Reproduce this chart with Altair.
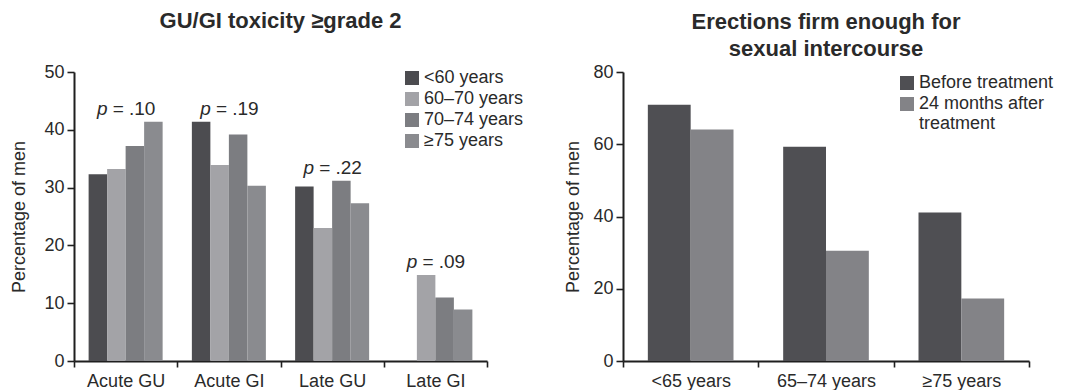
import altair as alt
import pandas as pd

FONT = "Liberation Sans"
TEXT = "#2a2a2a"
LINE = "#1f1f1f"

# ---- Left panel data: GU/GI toxicity >= grade 2 ----
tox_categories = ["Acute GU", "Acute GI", "Late GU", "Late GI"]
tox_groups = ["<60 years", "60–70 years", "70–74 years", "≥75 years"]
tox_lt60 = [32.3, 41.4, 30.2, None]
tox_60_70 = [33.2, 33.9, 23.0, 14.9]
tox_70_74 = [37.2, 39.2, 31.2, 11.0]
tox_ge75 = [41.4, 30.3, 27.3, 8.9]
tox_pvalues = ["= .10", "= .19", "= .22", "= .09"]
tox_colors = ["#4c4c50", "#a3a3a7", "#7c7d81", "#8a8b8f"]

# ---- Right panel data: erections firm enough ----
ed_categories = ["<65 years", "65–74 years", "≥75 years"]
ed_groups = ["Before treatment", "24 months after treatment"]
ed_before = [70.9, 59.3, 41.1]
ed_after = [64.1, 30.5, 17.3]
ed_colors = ["#4f4f53", "#838387"]

tox_series = [tox_lt60, tox_60_70, tox_70_74, tox_ge75]
tox_df = pd.DataFrame([
    {"category": c, "group": g, "value": v}
    for g, vals in zip(tox_groups, tox_series)
    for c, v in zip(tox_categories, vals)
    if v is not None
])
tox_top = [max(v for v in col if v is not None) for col in zip(*tox_series)]
p_df = pd.DataFrame({
    "category": tox_categories,
    "p": ["p"] * len(tox_categories),
    "rest": tox_pvalues,
    "top": tox_top,
})

ed_df = pd.DataFrame([
    {"category": c, "group": g, "value": v}
    for g, vals in zip(ed_groups, [ed_before, ed_after])
    for c, v in zip(ed_categories, vals)
])

x_axis = alt.Axis(title=None, labelAngle=0, tickBand="extent", tickSize=6,
                  labelPadding=5, domainWidth=2, tickWidth=1.6)

# ---- Left chart ----
left_x = alt.X("category:N", sort=tox_categories,
               scale=alt.Scale(paddingInner=0, paddingOuter=0), axis=x_axis)
left_bars = alt.Chart(tox_df).mark_bar().encode(
    x=left_x,
    xOffset=alt.XOffset("group:N", scale=alt.Scale(domain=tox_groups, paddingInner=0, paddingOuter=0.79)),
    y=alt.Y("value:Q", scale=alt.Scale(domain=[0, 50], nice=False),
            axis=alt.Axis(title="Percentage of men", values=list(range(0, 51, 5)),
                          labelExpr="datum.value % 10 == 0 ? datum.label : ''",
                          tickSize=7, labelPadding=3, titlePadding=15,
                          domainWidth=2, tickWidth=1.6)),
    color=alt.Color("group:N", scale=alt.Scale(domain=tox_groups, range=tox_colors),
                    legend=alt.Legend(title=None, orient="none", legendX=329, legendY=-3,
                                      symbolType="square", symbolSize=196, symbolStrokeWidth=0,
                                      labelOffset=3, rowPadding=3, padding=0)),
)
p_italic = alt.Chart(p_df).mark_text(font=FONT, fontSize=19, fontStyle="italic", color=TEXT,
                                     align="right", baseline="alphabetic", dx=-18, dy=-7).encode(
    x=alt.X("category:N", sort=tox_categories), y="top:Q", text="p:N")
p_rest = alt.Chart(p_df).mark_text(font=FONT, fontSize=19, color=TEXT,
                                   align="left", baseline="alphabetic", dx=-13, dy=-7).encode(
    x=alt.X("category:N", sort=tox_categories), y="top:Q", text="rest:N")

left = alt.layer(left_bars, p_italic, p_rest).properties(
    width=413, height=289,
    title=alt.TitleParams(text="GU/GI toxicity ≥grade 2", fontSize=22, fontWeight="bold",
                          font=FONT, color=TEXT, anchor="middle", frame="group",
                          baseline="bottom", offset=8),
)

# ---- Right chart ----
right = alt.Chart(ed_df).mark_bar().encode(
    x=alt.X("category:N", sort=ed_categories,
            scale=alt.Scale(paddingInner=0, paddingOuter=0), axis=x_axis),
    xOffset=alt.XOffset("group:N", scale=alt.Scale(domain=ed_groups, paddingInner=0, paddingOuter=0.58)),
    y=alt.Y("value:Q", scale=alt.Scale(domain=[0, 80], nice=False),
            axis=alt.Axis(title="Percentage of men", values=[0, 20, 40, 60, 80],
                          tickSize=7, labelPadding=3, titlePadding=10,
                          domainWidth=2, tickWidth=1.6)),
    color=alt.Color("group:N", scale=alt.Scale(domain=ed_groups, range=ed_colors),
                    legend=alt.Legend(title=None, orient="none", legendX=275, legendY=2,
                                      symbolType="square", symbolSize=196, symbolStrokeWidth=0,
                                      labelOffset=3, rowPadding=3, padding=0, labelLimit=400,
                                      labelExpr="datum.label == '24 months after treatment' ? ['24 months after', 'treatment'] : datum.label")),
).properties(
    width=406, height=289,
    title=alt.TitleParams(text=["Erections firm enough for", "sexual intercourse"], fontSize=22,
                          fontWeight="bold", font=FONT, color=TEXT, anchor="middle",
                          frame="group", baseline="bottom", offset=-20, lineHeight=27.5),
)

chart = alt.hconcat(left, right, spacing=40).resolve_scale(
    color="independent", x="independent", y="independent", xOffset="independent"
).properties(
    padding={"left": 2, "top": 2, "right": 0, "bottom": 0}
).configure_view(stroke=None).configure_axis(
    labelFont=FONT, titleFont=FONT, labelFontSize=18, titleFontSize=18,
    titleFontWeight="normal", labelColor=TEXT, titleColor=TEXT,
    domainColor=LINE, tickColor=LINE, grid=False,
).configure_legend(
    labelFont=FONT, labelFontSize=18, labelColor=TEXT,
)

chart.save("out.html", embed_options={"renderer": "svg", "actions": False})
